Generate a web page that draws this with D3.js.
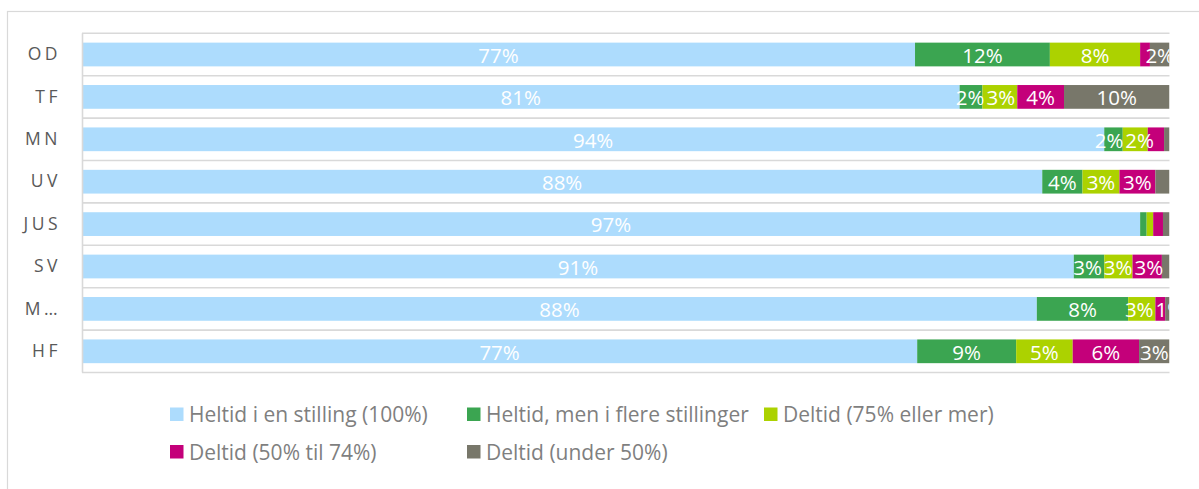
<!DOCTYPE html>
<html>
<head>
<meta charset="utf-8">
<script src="https://cdn.jsdelivr.net/npm/d3@7"></script>
<style>
  html, body { margin: 0; padding: 0; background: #fff; }
  svg { display: block; }
</style>
</head>
<body>
<svg id="chart" width="1199" height="489"></svg>
<script>
// ---- data ----
const categories = ["OD", "TF", "MN", "UV", "JUS", "SV", "M…", "HF"];
const seriesNames = [
  "Heltid i en stilling (100%)",
  "Heltid, men i flere stillinger",
  "Deltid (75% eller mer)",
  "Deltid (50% til 74%)",
  "Deltid (under 50%)"
];
const heltid      = [76.6, 80.7, 94.0, 88.3, 97.3, 91.2, 87.8, 76.8];
const flere       = [12.4,  2.1,  1.7,  3.7,  0.6,  2.8,  8.4,  9.1];
const deltid75    = [ 8.3,  3.2,  2.3,  3.4,  0.6,  2.6,  2.5,  5.2];
const deltid50    = [ 0.9,  4.3,  1.5,  3.3,  0.9,  2.7,  0.9,  6.1];
const deltidUnder = [ 1.8,  9.7,  0.5,  1.3,  0.6,  0.7,  0.4,  2.8];
// data labels as shown in the picture ("" = not shown)
const labelsHeltid  = ["77%", "81%", "94%", "88%", "97%", "91%", "88%", "77%"];
const labelsFlere   = ["12%", "2%", "2%", "4%", "", "3%", "8%", "9%"];
const labels75      = ["8%", "3%", "2%", "3%", "", "3%", "3%", "5%"];
const labels50      = ["", "4%", "", "3%", "", "3%", "", "6%"];
const labelsUnder   = ["2%", "10%", "", "", "", "", "1%", "3%"];

const colors = ["#addcfd", "#3ba551", "#acd200", "#c4007a", "#78776a"];

// ---- build ----
(function () {
const seriesValues = [heltid, flere, deltid75, deltid50, deltidUnder];
const seriesLabels = [labelsHeltid, labelsFlere, labels75, labels50, labelsUnder];
const keys = seriesNames;
const table = categories.map((c, i) => {
  const row = { cat: c, i: i };
  keys.forEach((k, j) => row[k] = seriesValues[j][i]);
  return row;
});
const stacked = d3.stack().keys(keys).offset(d3.stackOffsetExpand)(table);

const svg = d3.select("#chart");
const pLeft = 82, pRight = 1169.5, pTop = 33.3, pBottom = 372.5;
const FONT = "'Open Sans', Lato, sans-serif";

// outer frame
svg.append("rect")
  .attr("x", 7.5).attr("y", 11.5)
  .attr("width", 1300).attr("height", 600)
  .attr("fill", "none").attr("stroke", "#d9d9d9").attr("stroke-width", 1.2);

const x = d3.scaleLinear().domain([0, 1]).range([pLeft, pRight]);
const y = d3.scaleBand().domain(categories).range([pTop, pBottom])
  .paddingInner(0.44).paddingOuter(0.22);

// horizontal gridlines at category boundaries
const step = y.step();
const gridY = d3.range(categories.length + 1).map(i => pTop + i * step);
svg.append("g").selectAll("line").data(gridY).join("line")
  .attr("x1", pLeft).attr("x2", pRight)
  .attr("y1", d => d).attr("y2", d => d)
  .attr("stroke", "#d9d9d9").attr("stroke-width", 1.6);

// clip
svg.append("clipPath").attr("id", "plotclip")
  .append("rect").attr("x", pLeft).attr("y", pTop - 2)
  .attr("width", pRight - pLeft).attr("height", pBottom - pTop + 4);

// bars
const gBars = svg.append("g").attr("clip-path", "url(#plotclip)");
stacked.forEach((s, si) => {
  gBars.append("g").attr("fill", colors[si])
    .selectAll("rect").data(s).join("rect")
    .attr("x", d => x(d[0]))
    .attr("width", d => x(d[1]) - x(d[0]))
    .attr("y", d => y(d.data.cat))
    .attr("height", y.bandwidth());
});

// labels: centred on segments, then spread apart where neighbours collide
const labelItems = [];
stacked.forEach((s, si) => {
  s.forEach(d => {
    const t = seriesLabels[si][d.data.i];
    if (t) labelItems.push({ row: d.data.i, si: si, cat: d.data.cat, text: t, cx: (x(d[0]) + x(d[1])) / 2 });
  });
});
const labelSel = gBars.append("g")
  .selectAll("text").data(labelItems).join("text")
  .attr("y", d => y(d.cat) + y.bandwidth() / 2)
  .attr("dy", "0.4em")
  .attr("text-anchor", "middle")
  .attr("fill", "#ffffff")
  .style("font-family", FONT)
  .style("font-size", "20.5px")
  .text(d => d.text);
labelSel.each(function (d) { d.w = this.getComputedTextLength(); });
d3.groups(labelItems, d => d.row).forEach(([, items]) => {
  items.sort((a, b) => a.si - b.si);
  for (let it = 0; it < 60; it++) {
    for (let k = 0; k < items.length - 1; k++) {
      const a = items[k], b = items[k + 1];
      const ov = (a.cx + a.w / 2 + 2) - (b.cx - b.w / 2);
      if (ov > 0) { a.cx -= ov / 2; b.cx += ov / 2; }
    }
  }
});
labelSel.attr("x", d => d.cx);

// y axis
const yAxis = svg.append("g")
  .attr("transform", `translate(${pLeft},0)`)
  .call(d3.axisLeft(y).tickSize(0).tickPadding(21));
yAxis.select(".domain").attr("stroke", "#d9d9d9").attr("stroke-width", 1.6)
  .attr("d", `M0.5,${pTop}V${pBottom}`);
yAxis.selectAll("text")
  .attr("fill", "#595959")
  .style("font-family", FONT)
  .style("font-size", "17.5px")
  .style("letter-spacing", "3.5px");

// legend
const legendRows = [
  [{ s: 0, x: 170 }, { s: 1, x: 467 }, { s: 2, x: 764 }],
  [{ s: 3, x: 170 }, { s: 4, x: 467 }]
];
const legendY = [414.5, 452];
const lg = svg.append("g");
legendRows.forEach((row, ri) => {
  const g = lg.append("g");
  g.selectAll("rect").data(row).join("rect")
    .attr("x", d => d.x).attr("y", legendY[ri] - 7)
    .attr("width", 13.5).attr("height", 13.5)
    .attr("fill", d => colors[d.s]);
  g.selectAll("text").data(row).join("text")
    .attr("x", d => d.x + 19).attr("y", legendY[ri])
    .attr("dy", "0.36em")
    .attr("fill", "#7f7f7f")
    .style("font-family", FONT)
    .style("font-size", "21px")
    .text(d => seriesNames[d.s]);
});
})();
</script>
</body>
</html>
